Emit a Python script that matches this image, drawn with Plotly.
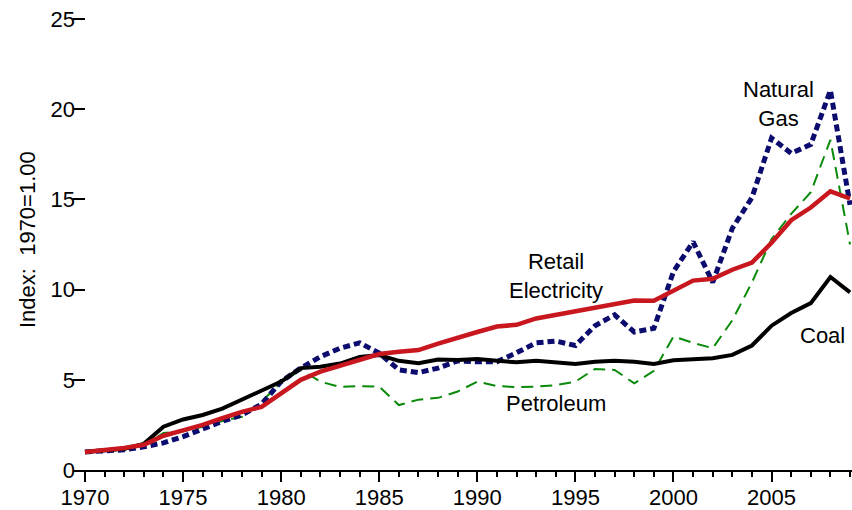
import plotly.graph_objects as go

years = list(range(1970, 2010))

electricity = [1.00, 1.10, 1.22, 1.40, 1.90, 2.20, 2.50, 2.87, 3.22, 3.50,
               4.25, 5.00, 5.45, 5.77, 6.15, 6.43, 6.56, 6.65, 7.00, 7.35,
               7.65, 7.95, 8.05, 8.40, 8.60, 8.85, 9.05, 9.20, 9.40, 9.38,
               9.95, 10.50, 10.60, 11.10, 11.50, 12.60, 13.85, 14.55, 15.45, 15.05]

coal = [1.00, 1.08, 1.18, 1.45, 2.40, 2.80, 3.05, 3.40, 3.90, 4.35,
        4.90, 5.65, 5.73, 5.90, 6.26, 6.37, 6.05, 5.92, 6.12, 6.10,
        6.15, 6.05, 5.97, 6.05, 5.95, 5.87, 6.00, 6.05, 6.00, 5.88,
        6.08, 6.12, 6.20, 6.38, 6.90, 8.00, 8.70, 9.25, 10.70, 9.85]

natural_gas = [1.00, 1.05, 1.12, 1.28, 1.50, 1.85, 2.30, 2.70, 3.05, 3.65,
               4.90, 5.65, 6.28, 6.75, 7.05, 6.48, 5.55, 5.40, 5.65, 6.05,
               6.00, 6.00, 6.50, 7.05, 7.15, 6.90, 8.00, 8.60, 7.65, 7.85,
               11.00, 12.65, 10.40, 13.40, 15.10, 18.40, 17.55, 18.05, 21.05, 14.70]

petroleum = [1.00, 1.05, 1.12, 1.35, 2.05, 2.15, 2.40, 2.72, 2.95, 3.80,
             4.85, 5.55, 4.90, 4.60, 4.65, 4.62, 3.60, 3.90, 4.00, 4.35,
             4.90, 4.65, 4.60, 4.62, 4.70, 4.90, 5.60, 5.55, 4.80, 5.50,
             7.40, 7.05, 6.75, 8.30, 10.40, 12.80, 14.20, 15.40, 18.30, 12.50]

labels = [
    ("Natural<br>Gas", 2005.33, 20.3),
    ("Retail<br>Electricity", 1994.0, 10.75),
    ("Petroleum", 1994.0, 3.66),
    ("Coal", 2007.58, 7.43),
]

FONT = "Liberation Sans, Arial, sans-serif"

fig = go.Figure()
fig.add_trace(go.Scatter(x=years, y=petroleum, mode="lines", name="Petroleum",
                         line=dict(color="#0a8a0a", width=2, dash="12px,7px")))
fig.add_trace(go.Scatter(x=years, y=natural_gas, mode="lines", name="Natural Gas",
                         line=dict(color="#0c0c6e", width=5, dash="7px,4px")))
fig.add_trace(go.Scatter(x=years, y=coal, mode="lines", name="Coal",
                         line=dict(color="black", width=4)))
fig.add_trace(go.Scatter(x=years, y=electricity, mode="lines", name="Retail Electricity",
                         line=dict(color="#c8171e", width=4.5)))

for text, x, y in labels:
    fig.add_annotation(x=x, y=y, xref="x", yref="y", text=text, showarrow=False,
                       font=dict(size=22, color="black", family=FONT),
                       xanchor="center", yanchor="middle", align="center")

fig.add_annotation(x=(27 - 73) / 779, y=0.5, xref="paper", yref="paper",
                   text="Index:\u00a0 1970=1.00", textangle=-90, showarrow=False,
                   font=dict(size=22, color="black", family=FONT),
                   xanchor="center", yanchor="middle")

fig.update_layout(
    width=852, height=510,
    margin=dict(l=73, r=0, t=10, b=40),
    paper_bgcolor="white", plot_bgcolor="white",
    showlegend=False,
    font=dict(family=FONT, size=22, color="black"),
    xaxis=dict(range=[1969.39, 2009.1], tick0=1970, dtick=5,
               showline=True, linecolor="black", linewidth=2,
               ticks="outside", ticklen=10, tickwidth=2, tickcolor="black",
               ticklabelstandoff=-3,
               showgrid=False, zeroline=False, automargin=False,
               tickfont=dict(size=22, family=FONT, color="black"),
               minor=dict(dtick=1, ticks="outside", ticklen=5, tickwidth=2,
                          tickcolor="black", showgrid=False)),
    yaxis=dict(range=[0, 25.5], dtick=5, showline=False,
               ticks="inside", ticklen=12, tickwidth=2, tickcolor="black",
               ticklabelstandoff=-3, automargin=False,
               showgrid=False, zeroline=False,
               tickfont=dict(size=22, family=FONT, color="black")),
)

fig.write_html("out.html",
               config={"displayModeBar": False},
               post_script="document.body.style.margin='0';document.body.style.overflow='hidden';")
